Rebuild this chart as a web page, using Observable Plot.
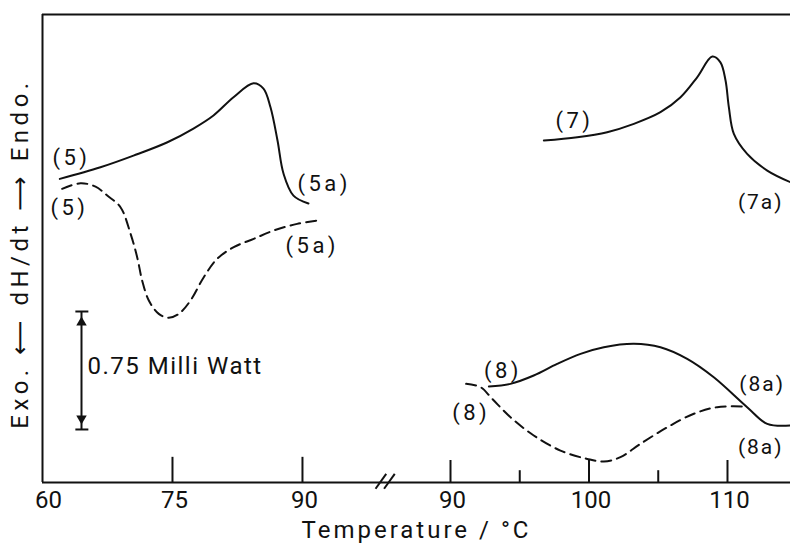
<!DOCTYPE html>
<html><head><meta charset="utf-8">
<script src="https://cdn.jsdelivr.net/npm/d3@7"></script>
<script src="https://cdn.jsdelivr.net/npm/@observablehq/plot@0.6"></script>
<style>body{margin:0;background:#fff}</style>
</head><body><div id="chart"></div>
<script>
// ---- Data (temperature in °C, heat-flow signal in mW, arbitrary zero) ----
// Left panel (60–90 °C)
const c5HeatT = [62.0, 66.69, 70.50, 74.42, 77.42, 79.73, 82.04, 84.35, 85.50, 86.31, 87.12, 87.81, 88.96, 90.69];
const c5HeatV = [1.930, 2.004, 2.078, 2.163, 2.250, 2.333, 2.449, 2.538, 2.504, 2.385, 2.174, 1.964, 1.824, 1.774];
const c5CoolT = [62.27, 64.38, 66.12, 67.47, 69.00, 70.15, 70.93, 71.50, 72.27, 73.42, 74.57, 75.73, 77.08, 78.61, 80.16, 82.07, 84.38, 86.69, 89.39, 91.69];
const c5CoolV = [1.867, 1.902, 1.881, 1.824, 1.750, 1.583, 1.431, 1.284, 1.157, 1.072, 1.047, 1.072, 1.157, 1.305, 1.422, 1.496, 1.549, 1.602, 1.644, 1.665];
// Right panel (90–115 °C)
const c7HeatT = [96.74, 99.15, 101.31, 103.24, 105.16, 106.61, 107.81, 108.90, 109.49, 109.86, 110.10, 110.46, 111.42, 112.87, 114.55];
const c7HeatV = [2.174, 2.195, 2.227, 2.280, 2.354, 2.449, 2.576, 2.708, 2.671, 2.555, 2.385, 2.216, 2.089, 1.983, 1.909];
const c8HeatT = [92.77, 94.33, 96.01, 97.70, 99.39, 101.07, 103.24, 105.16, 107.09, 109.01, 111.42, 112.87, 114.55];
const c8HeatV = [0.610, 0.627, 0.680, 0.754, 0.818, 0.860, 0.882, 0.860, 0.786, 0.669, 0.479, 0.373, 0.362];
const c8CoolT = [91.13, 92.17, 93.01, 94.33, 96.01, 97.94, 99.87, 101.07, 102.27, 103.72, 105.65, 107.57, 109.25, 111.18];
const c8CoolV = [0.627, 0.606, 0.532, 0.415, 0.299, 0.203, 0.150, 0.133, 0.161, 0.246, 0.351, 0.437, 0.479, 0.483];

// Curve labels
const labelText = ["(5)", "(5)", "(5a)", "(5a)", "(7)", "(7a)", "(8)", "(8)", "(8a)", "(8a)"];
const labelT    = [61.15, 60.92, 89.42, 88.04, 97.58, 110.75, 92.41, 90.12, 110.85, 110.75];
const labelV    = [2.066, 1.748, 1.900, 1.506, 2.301, 1.780, 0.712, 0.445, 0.623, 0.222];
const labelSeg  = ["L", "L", "L", "L", "R", "R", "R", "R", "R", "R"];

// Axis ticks
const leftTicks = [75, 90];
const rightTicks = [90, 95, 100, 105, 110];
const rightMajor = [90, 100, 110];
const leftTickLabels = ["60", "75", "90"];
const leftTickValues = [60, 75, 90];
const rightTickLabels = ["90", "100", "110"];
const rightTickValues = [90, 100, 110];

// Scale bar: 0.75 mW
const barT = 64.5;
const barLow = 0.337;
const barSize = 0.75;
const barText = "0.75 Milli Watt";

const yTitle = "Exo. \u27F5 dH/dt \u27F6 Endo.";
const xTitle = "Temperature / \u00B0C";

// ---- Broken axis mapping ----
const OFFSET = 100;           // right panel temperatures are shifted by OFFSET in scale space
const vx = (T, seg) => seg === "R" ? T + OFFSET : T;
const leftEnd = 92, rightStart = 90 + OFFSET, rightEnd = 114.6 + OFFSET;
const yTop = 2.975;

function rows(name, seg, Ts, Vs) { return Ts.map((T, i) => ({name, seg, T, v: Vs[i], x: vx(T, seg)})); }
const solid = [...rows("5h", "L", c5HeatT, c5HeatV), ...rows("7h", "R", c7HeatT, c7HeatV), ...rows("8h", "R", c8HeatT, c8HeatV)];
const dashed = [...rows("5c", "L", c5CoolT, c5CoolV), ...rows("8c", "R", c8CoolT, c8CoolV)];
const labels = labelText.map((t, i) => ({t, x: vx(labelT[i], labelSeg[i]), v: labelV[i], edge: labelSeg[i] === "R" && labelT[i] > 110}));

const ticks = [
  ...leftTicks.map(T => ({x: vx(T, "L"), len: 0.16})),
  ...rightTicks.map(T => ({x: vx(T, "R"), len: rightMajor.includes(T) ? 0.14 : 0.075}))
];
const tickLabelsFirst = [{x: vx(leftTickValues[0], "L"), t: leftTickLabels[0]}];
const tickLabelsRest = [
  ...leftTickValues.slice(1).map((T, i) => ({x: vx(T, "L"), t: leftTickLabels[i + 1]})),
  ...rightTickValues.map((T, i) => ({x: vx(T, "R"), t: rightTickLabels[i]}))
];

// break marks centred in the gap
const bc = (leftEnd + rightStart) / 2;
const breaks = [-1, 1].map(s => ({x1: bc + s * 3.2 - 4, y1: -0.04, x2: bc + s * 3.2 + 4, y2: 0.055}));

const font = "Roboto, 'DejaVu Sans', sans-serif";

const svg = Plot.plot({
  width: 790, height: 549,
  marginTop: 14, marginBottom: 67, marginLeft: 42, marginRight: 0,
  style: {fontFamily: font, background: "#fff", color: "#111"},
  x: {type: "linear", domain: [60, leftEnd, rightStart, rightEnd], range: [42, 319.3, 450, 790.7], axis: null},
  y: {domain: [0, yTop], axis: null},
  marks: [
    // frame
    Plot.ruleX([60], {y1: 0, y2: yTop, stroke: "#111", strokeWidth: 2}),
    Plot.ruleY([yTop], {x1: 60, x2: rightEnd, stroke: "#111", strokeWidth: 2}),
    Plot.ruleY([0], {x1: 60, x2: rightEnd, stroke: "#111", strokeWidth: 2}),
    // ticks (inward)
    Plot.ruleX(ticks, {x: "x", y1: 0, y2: "len", stroke: "#111", strokeWidth: 2}),
    // break marks
    Plot.link(breaks, {x1: "x1", y1: "y1", x2: "x2", y2: "y2", stroke: "#111", strokeWidth: 2}),
    // curves
    Plot.line(solid, {x: "x", y: "v", z: "name", curve: "catmull-rom", stroke: "#111", strokeWidth: 2}),
    Plot.line(dashed, {x: "x", y: "v", z: "name", curve: "catmull-rom", stroke: "#111", strokeWidth: 2, strokeDasharray: "10,6"}),
    // scale bar
    Plot.ruleX([barT], {y1: barLow, y2: barLow + barSize, stroke: "#111", strokeWidth: 2}),
    Plot.ruleY([barLow, barLow + barSize], {x1: barT - 0.65, x2: barT + 0.85, stroke: "#111", strokeWidth: 2}),
    Plot.dot([{v: barLow + barSize - 0.07, r: 0}, {v: barLow + 0.07, r: 180}], {x: barT, y: "v", symbol: "triangle2", r: 5, rotate: "r", fill: "#111", stroke: "none"}),
    Plot.text([barText], {x: barT, y: barLow + barSize / 2, dx: 6, dy: -4, textAnchor: "start", fontSize: 24, fill: "#111"}),
    // curve labels
    Plot.text(labels.filter(d => !d.edge), {x: "x", y: "v", text: "t", textAnchor: "start", fontSize: 22, fill: "#111"}),
    Plot.text(labels.filter(d => d.edge), {x: "x", y: "v", text: "t", textAnchor: "start", fontSize: 21, fill: "#111"}),
    // tick labels
    Plot.text(tickLabelsFirst, {x: "x", y: 0, text: "t", dx: 6, dy: 18, fontSize: 24, fill: "#111"}),
    Plot.text(tickLabelsRest, {x: "x", y: 0, text: "t", dx: 2, dy: 18, fontSize: 24, fill: "#111"}),
    // axis titles
    Plot.text([xTitle], {frameAnchor: "bottom", dx: 0, dy: 55, fontSize: 24, fill: "#111"}),
    Plot.text([yTitle], {frameAnchor: "left", textAnchor: "middle", dx: -22, dy: 5, rotate: -90, fontSize: 24, fill: "#111"})
  ]
});
document.getElementById("chart").appendChild(svg);
// letter spacing, matched by text content
const spacing = new Map([[xTitle, 3], [yTitle, 4.5], [barText, 1.5], ...labelText.map(t => [t, 3.5]), ["(7a)", 2], ["(8a)", 2]]);
d3.select(svg).selectAll("text").each(function () {
  const t = this.textContent;
  if (spacing.has(t)) this.setAttribute("letter-spacing", spacing.get(t));
});
</script></body></html>
